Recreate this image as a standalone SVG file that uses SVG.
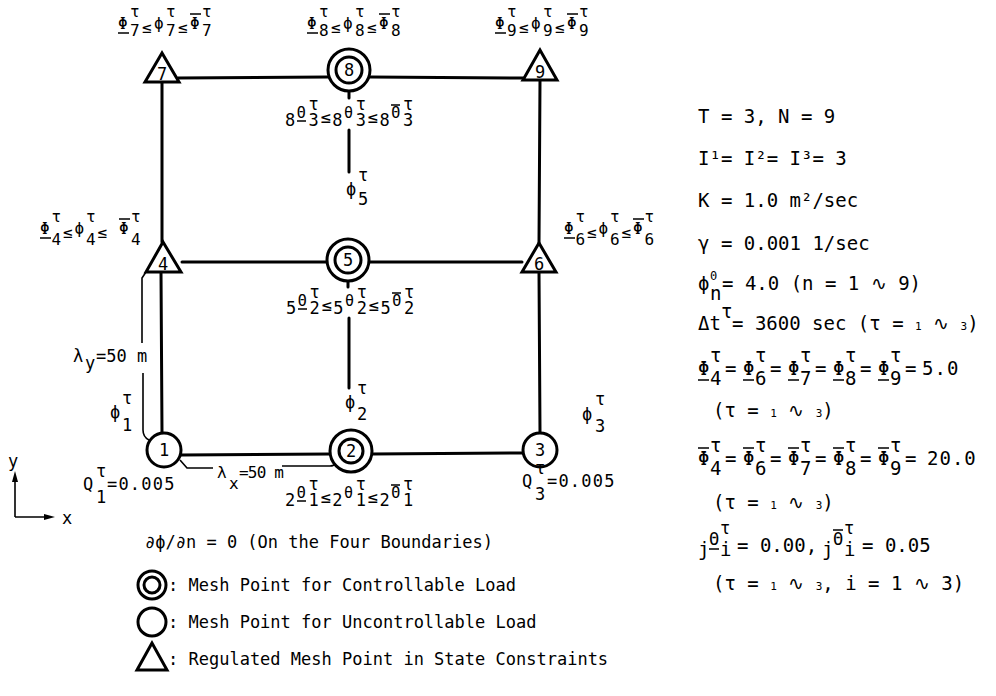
<svg xmlns="http://www.w3.org/2000/svg" width="996" height="696" viewBox="0 0 996 696">
<style>
text{font-family:"DejaVu Sans Mono","Liberation Mono",monospace;font-size:16px;fill:#000}
.n{text-anchor:middle;font-size:17px}
.m{font-size:17px}
.b{font-size:19px}
.lg{font-size:17px}
.s{font-size:11px}
.t{font-size:15px}
.e{fill:none;stroke:#000;stroke-width:3;stroke-linecap:round}
.d{fill:none;stroke:#000;stroke-width:1.6}
.bar{fill:none;stroke:#000;stroke-width:1.5}
.node{fill:#fff;stroke:#000;stroke-width:3}
</style>
<rect width="996" height="696" fill="#fff"/>
<g id="connectors">
<path class="e" d="M178 78 L328 77 M370 77 L523 78 M182 262 L327 262 M369 262 L522 262 M181 455 L330 454 M372 454 L523 453 M162 82 L162 242 M161 272 L162 433 M540 80 L539 243 M539 272 L540 433 M349 91 L349 98 M349 130 L349 172 M348 281 L348 287 M349 318 L349 388"/>
<path class="d" d="M146 272 L142 278 L142 343 M143 373 L143 430 Q143 437 149 440 M180 460 L187 468 L213 468 M282 466 L330 466 Q334 466 336 463"/>
</g>
<g id="axes">
<path class="d" d="M15 517 L15 478 M15 517 L48 517"/>
<polygon points="15,471 12,482 18,482"/>
<polygon points="55,517 44,514 44,520"/>
<text class="m" x="8" y="467">y</text>
<text class="m" x="62" y="524">x</text>
</g>
<g id="n7"><polygon class="node" points="162,53 145,82 179,82"/><text class="n" x="162" y="80">7</text></g>
<g id="n8"><circle class="node" cx="349" cy="70" r="21"/><circle class="node" cx="349" cy="70" r="13"/><text class="n" x="349" y="76">8</text></g>
<g id="n9"><polygon class="node" points="540,50 523,80 557,80"/><text class="n" x="540" y="78">9</text></g>
<g id="n4"><polygon class="node" points="163,242 146,272 181,272"/><text class="n" x="163" y="270">4</text></g>
<g id="n5"><circle class="node" cx="348" cy="260" r="21"/><circle class="node" cx="348" cy="260" r="13"/><text class="n" x="348" y="266">5</text></g>
<g id="n6"><polygon class="node" points="539,243 522,272 556,272"/><text class="n" x="539" y="270">6</text></g>
<g id="n1"><circle class="node" cx="164" cy="450" r="17"/><text class="n" x="164" y="456">1</text></g>
<g id="n2"><circle class="node" cx="351" cy="451" r="21"/><circle class="node" cx="351" cy="451" r="12"/><text class="n" x="351" y="457">2</text></g>
<g id="n3"><circle class="node" cx="540" cy="450" r="17"/><text class="n" x="540" y="456">3</text></g>
<g id="labels">
<text><tspan x="118" y="29">Φ</tspan><tspan x="130" y="17">τ</tspan><tspan x="130" y="36">7</tspan><tspan x="142" y="33">≤</tspan><tspan x="154" y="29">ϕ</tspan><tspan x="166" y="17">τ</tspan><tspan x="166" y="36">7</tspan><tspan x="178" y="33">≤</tspan><tspan x="190" y="29">Φ</tspan><tspan x="202" y="17">τ</tspan><tspan x="202" y="36">7</tspan></text>
<text><tspan x="307" y="29">Φ</tspan><tspan x="319" y="17">τ</tspan><tspan x="319" y="36">8</tspan><tspan x="331" y="33">≤</tspan><tspan x="343" y="29">ϕ</tspan><tspan x="355" y="17">τ</tspan><tspan x="355" y="36">8</tspan><tspan x="367" y="33">≤</tspan><tspan x="379" y="29">Φ</tspan><tspan x="391" y="17">τ</tspan><tspan x="391" y="36">8</tspan></text>
<text><tspan x="495" y="29">Φ</tspan><tspan x="507" y="17">τ</tspan><tspan x="507" y="36">9</tspan><tspan x="519" y="33">≤</tspan><tspan x="531" y="29">ϕ</tspan><tspan x="543" y="17">τ</tspan><tspan x="543" y="36">9</tspan><tspan x="555" y="33">≤</tspan><tspan x="567" y="29">Φ</tspan><tspan x="579" y="17">τ</tspan><tspan x="579" y="36">9</tspan></text>
<text><tspan x="40" y="234">Φ</tspan><tspan x="51.5" y="222">τ</tspan><tspan x="51.5" y="245">4</tspan><tspan x="63" y="238">≤</tspan><tspan x="74.5" y="234">ϕ</tspan><tspan x="86" y="222">τ</tspan><tspan x="86" y="245">4</tspan><tspan x="97.5" y="238">≤</tspan><tspan x="119" y="234">Φ</tspan><tspan x="131" y="222">τ</tspan><tspan x="131" y="245">4</tspan></text>
<text><tspan x="564" y="234">Φ</tspan><tspan x="575.5" y="222">τ</tspan><tspan x="575.5" y="245">6</tspan><tspan x="587" y="238">≤</tspan><tspan x="598.5" y="234">ϕ</tspan><tspan x="610" y="222">τ</tspan><tspan x="610" y="245">6</tspan><tspan x="621.5" y="238">≤</tspan><tspan x="633" y="234">Φ</tspan><tspan x="644.5" y="222">τ</tspan><tspan x="644.5" y="245">6</tspan></text>
<path class="bar" d="M118 33 H129 M190 14 H201 M307 33 H318 M379 14 H390 M495 33 H506 M567 14 H578 M40 238 H51 M119 219 H130 M564 238 H575 M633 219 H644"/>
<text class="m"><tspan x="285" y="126">8</tspan><tspan x="296.8" y="118" class="t">Θ</tspan><tspan x="308.6" y="110">τ</tspan><tspan x="308.6" y="126">3</tspan><tspan x="320.4" y="123">≤</tspan><tspan x="332.2" y="126">8</tspan><tspan x="344" y="118" class="t">θ</tspan><tspan x="355.8" y="110">τ</tspan><tspan x="355.8" y="126">3</tspan><tspan x="367.6" y="123">≤</tspan><tspan x="379.4" y="126">8</tspan><tspan x="391.2" y="118" class="t">Θ</tspan><tspan x="403" y="110">τ</tspan><tspan x="403" y="126">3</tspan></text>
<text class="m"><tspan x="286" y="314">5</tspan><tspan x="297.8" y="306" class="t">Θ</tspan><tspan x="309.6" y="298">τ</tspan><tspan x="309.6" y="314">2</tspan><tspan x="321.4" y="311">≤</tspan><tspan x="333.2" y="314">5</tspan><tspan x="345" y="306" class="t">θ</tspan><tspan x="356.8" y="298">τ</tspan><tspan x="356.8" y="314">2</tspan><tspan x="368.6" y="311">≤</tspan><tspan x="380.4" y="314">5</tspan><tspan x="392.2" y="306" class="t">Θ</tspan><tspan x="404" y="298">τ</tspan><tspan x="404" y="314">2</tspan></text>
<text class="m"><tspan x="285" y="506">2</tspan><tspan x="296.8" y="498" class="t">Θ</tspan><tspan x="308.6" y="490">τ</tspan><tspan x="308.6" y="506">1</tspan><tspan x="320.4" y="503">≤</tspan><tspan x="332.2" y="506">2</tspan><tspan x="344" y="498" class="t">θ</tspan><tspan x="355.8" y="490">τ</tspan><tspan x="355.8" y="506">1</tspan><tspan x="367.6" y="503">≤</tspan><tspan x="379.4" y="506">2</tspan><tspan x="391.2" y="498" class="t">Θ</tspan><tspan x="403" y="490">τ</tspan><tspan x="403" y="506">1</tspan></text>
<path class="bar" d="M297 121 H306 M391 105 H400 M298 309 H307 M392 293 H401 M297 501 H306 M391 485 H400"/>
<text class="m"><tspan x="346" y="195">ϕ</tspan><tspan x="358" y="181">τ</tspan><tspan x="358" y="205">5</tspan></text>
<text class="m"><tspan x="345" y="408">ϕ</tspan><tspan x="357" y="394">τ</tspan><tspan x="357" y="420">2</tspan></text>
<text class="m"><tspan x="110" y="418">ϕ</tspan><tspan x="122" y="404">τ</tspan><tspan x="122" y="431">1</tspan></text>
<text class="m"><tspan x="582" y="420">ϕ</tspan><tspan x="595" y="405">τ</tspan><tspan x="595" y="432">3</tspan></text>
<text class="m"><tspan x="83" y="490">Q</tspan><tspan x="96" y="477">τ</tspan><tspan x="96" y="503">1</tspan><tspan x="107" y="490" style="letter-spacing:1.2px">=0.005</tspan></text>
<text class="m"><tspan x="522" y="487">Q</tspan><tspan x="535" y="474">τ</tspan><tspan x="535" y="500">3</tspan><tspan x="547" y="487" style="letter-spacing:1.2px">=0.005</tspan></text>
<text class="m"><tspan x="73" y="362">λ</tspan><tspan x="85" y="369">y</tspan><tspan x="96" y="362">=50 m</tspan></text>
<text><tspan x="217" y="478">λ</tspan><tspan x="229" y="489">x</tspan><tspan x="239" y="478" style="letter-spacing:-0.8px">=50 m</tspan></text>
</g>
<g id="parameters">
<text class="b" x="698" y="123">T = 3, N = 9</text>
<text class="b" x="698" y="165">I¹= I²= I³= 3</text>
<text class="b" x="698" y="207">K = 1.0 m²/sec</text>
<text class="b" x="698" y="250">γ = 0.001 1/sec</text>
<text class="b"><tspan x="698" y="290">ϕ</tspan><tspan x="710" y="280" style="font-size:12px">0</tspan><tspan x="710" y="300">n</tspan><tspan x="722" y="290">= 4.0 (n = 1 ∿ 9)</tspan></text>
<text class="b"><tspan x="698" y="330">Δt</tspan><tspan x="721" y="318">τ</tspan><tspan x="732" y="330">= 3600 sec (τ = <tspan class="s">1</tspan> ∿ <tspan class="s">3</tspan>)</tspan></text>
<text class="b"><tspan x="698" y="375">Φ</tspan><tspan x="710" y="362">τ</tspan><tspan x="710" y="385">4</tspan><tspan x="725" y="375">=</tspan><tspan x="743" y="375">Φ</tspan><tspan x="755" y="362">τ</tspan><tspan x="755" y="385">6</tspan><tspan x="770" y="375">=</tspan><tspan x="788" y="375">Φ</tspan><tspan x="800" y="362">τ</tspan><tspan x="800" y="385">7</tspan><tspan x="815" y="375">=</tspan><tspan x="833" y="375">Φ</tspan><tspan x="845" y="362">τ</tspan><tspan x="845" y="385">8</tspan><tspan x="860" y="375">=</tspan><tspan x="878" y="375">Φ</tspan><tspan x="890" y="362">τ</tspan><tspan x="890" y="385">9</tspan><tspan x="905" y="375">=</tspan><tspan x="922" y="375" style="letter-spacing:1px">5.0</tspan></text>
<path class="bar" d="M698 380 H709 M743 380 H754 M788 380 H799 M833 380 H844 M878 380 H889"/>
<text class="b" x="713" y="417">(τ = <tspan class="s">1</tspan> ∿ <tspan class="s">3</tspan>)</text>
<text class="b"><tspan x="698" y="465">Φ</tspan><tspan x="710" y="452">τ</tspan><tspan x="710" y="475">4</tspan><tspan x="725" y="465">=</tspan><tspan x="743" y="465">Φ</tspan><tspan x="755" y="452">τ</tspan><tspan x="755" y="475">6</tspan><tspan x="770" y="465">=</tspan><tspan x="788" y="465">Φ</tspan><tspan x="800" y="452">τ</tspan><tspan x="800" y="475">7</tspan><tspan x="815" y="465">=</tspan><tspan x="833" y="465">Φ</tspan><tspan x="845" y="452">τ</tspan><tspan x="845" y="475">8</tspan><tspan x="860" y="465">=</tspan><tspan x="878" y="465">Φ</tspan><tspan x="890" y="452">τ</tspan><tspan x="890" y="475">9</tspan><tspan x="905" y="465">=</tspan><tspan x="927" y="465" style="letter-spacing:1px">20.0</tspan></text>
<path class="bar" d="M698 448 H709 M743 448 H754 M788 448 H799 M833 448 H844 M878 448 H889"/>
<text class="b" x="713" y="509">(τ = <tspan class="s">1</tspan> ∿ <tspan class="s">3</tspan>)</text>
<text class="b"><tspan x="698" y="556">j</tspan><tspan x="709" y="545" class="m">Θ</tspan><tspan x="720" y="534" class="m">τ</tspan><tspan x="720" y="556">i</tspan><tspan x="737" y="552">= 0.00,</tspan><tspan x="822" y="556">j</tspan><tspan x="833" y="545" class="m">Θ</tspan><tspan x="844" y="534" class="m">τ</tspan><tspan x="844" y="556">i</tspan><tspan x="862" y="552">= 0.05</tspan></text>
<path class="bar" d="M709 549 H719 M833 530 H843"/>
<text class="b" x="713" y="590">(τ = <tspan class="s">1</tspan> ∿ <tspan class="s">3</tspan>, i = 1 ∿ 3)</text>
</g>
<g id="legend">
<text class="lg" x="145" y="548">∂ϕ/∂n = 0 (On the Four Boundaries)</text>
<circle class="node" cx="152" cy="585" r="14"/><circle class="node" cx="152" cy="585" r="8"/>
<text class="lg" x="168" y="591">: Mesh Point for Controllable Load</text>
<circle class="node" cx="152" cy="622" r="14"/>
<text class="lg" x="168" y="628">: Mesh Point for Uncontrollable Load</text>
<polygon class="node" points="152,643 137,670 167,670"/>
<text class="lg" x="168" y="665">: Regulated Mesh Point in State Constraints</text>
</g>
</svg>
